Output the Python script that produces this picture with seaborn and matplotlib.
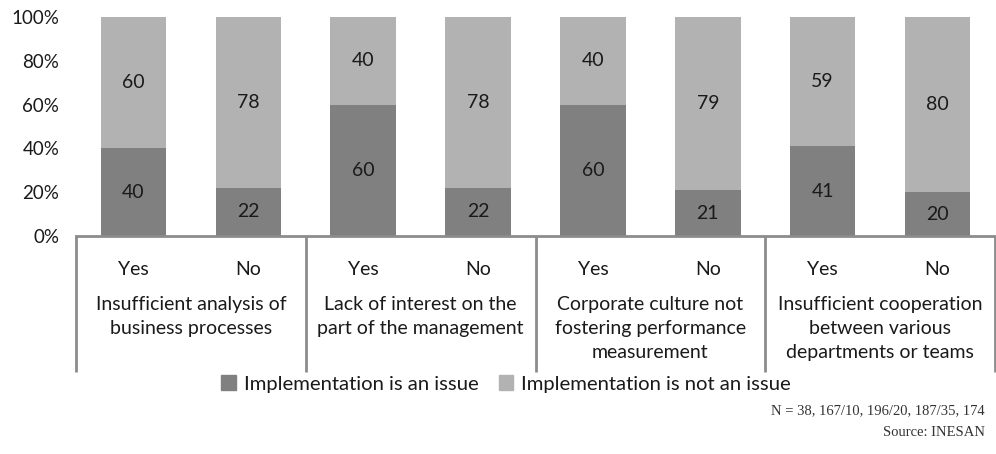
import matplotlib
matplotlib.use("Agg")
import matplotlib.pyplot as plt
import matplotlib.transforms as mtransforms
from matplotlib.patches import Patch
import seaborn as sns
import pandas as pd

categories = [
    "Insufficient analysis of\nbusiness processes",
    "Lack of interest on the\npart of the management",
    "Corporate culture not\nfostering performance\nmeasurement",
    "Insufficient cooperation\nbetween various\ndepartments or teams",
]
answers = ["Yes", "No"]
issue = [40, 22, 60, 22, 60, 21, 41, 20]
not_issue = [60, 78, 40, 78, 40, 79, 59, 80]
yticks = [0, 20, 40, 60, 80, 100]
series_names = ["Implementation is an issue", "Implementation is not an issue"]
footnote = ["N = 38, 167/10, 196/20, 187/35, 174", "Source: INESAN"]

DARK = "#808080"
LIGHT = "#b2b2b2"
LINE = "#8c8c8c"
TXT = "#1a1a1a"

sns.set_theme(style="white")
plt.rcParams["font.family"] = ["Lato", "DejaVu Sans"]

rows = []
for ci, cat in enumerate(categories):
    for ai, ans in enumerate(answers):
        k = ci * 2 + ai
        rows.append({"bar": f"{ci}-{ans}", "answer": ans,
                     "issue": issue[k], "not_issue": not_issue[k],
                     "total": issue[k] + not_issue[k]})
df = pd.DataFrame(rows)

W, H = 996, 454
fig = plt.figure(figsize=(W / 100, H / 100), dpi=100)
left, right, top, bottom = 76, 995, 17, 236
ax = fig.add_axes([left / W, 1 - bottom / H, (right - left) / W, (bottom - top) / H])

FS = 14
FT = 13.5
sns.barplot(data=df, x="bar", y="total", color=LIGHT, width=0.57, ax=ax,
            saturation=1, linewidth=0)
sns.barplot(data=df, x="bar", y="issue", color=DARK, width=0.57, ax=ax,
            saturation=1, linewidth=0)

for i, r in df.iterrows():
    ax.text(i, r["issue"] / 2, f"{r['issue']}", ha="center", va="center",
            fontsize=FS, color=TXT)
    ax.text(i, r["issue"] + r["not_issue"] / 2, f"{r['not_issue']}",
            ha="center", va="center", fontsize=FS, color=TXT)

ax.set_ylim(0, 100)
ax.set_xlim(-0.5, len(df) - 0.5)
ax.set_yticks(yticks)
ax.set_yticklabels([f"{v}%" for v in yticks], fontsize=FT, color=TXT)
ax.tick_params(axis="y", length=0, pad=12)
ax.set_xticks(range(len(df)))
ax.set_xticklabels(df["answer"], fontsize=FS, color=TXT)
ax.tick_params(axis="x", length=0, pad=18)
ax.set_xlabel("")
ax.set_ylabel("")
for s in ["top", "right", "left"]:
    ax.spines[s].set_visible(False)
ax.spines["bottom"].set_color(LINE)
ax.spines["bottom"].set_linewidth(2)

trans = mtransforms.blended_transform_factory(ax.transData, ax.transAxes)
axh = bottom - top
ylow = -(372 - bottom) / axh
for xd in [-0.5, 1.5, 3.5, 5.5, 7.5]:
    ax.plot([xd, xd], [0, ylow], transform=trans, color=LINE, lw=2,
            clip_on=False, solid_capstyle="butt")

ytxt = -(296 - bottom) / axh
for ci, cat in enumerate(categories):
    ax.text(ci * 2 + 0.5, ytxt, cat, transform=trans, ha="center", va="top",
            fontsize=FS, color=TXT, linespacing=1.5, multialignment="center")

handles = [Patch(color=DARK), Patch(color=LIGHT)]
fig.legend(handles, series_names, loc="center", bbox_to_anchor=(506 / W, 1 - 384 / H),
           ncol=2, frameon=False, fontsize=14.6, handlelength=0.7, handleheight=0.7,
           handletextpad=0.4, columnspacing=1.0, labelcolor=TXT)

fig.text(985 / W, 1 - 411 / H, footnote[0], ha="right", va="center",
         fontsize=10.5, family="Liberation Serif", color="#333333")
fig.text(985 / W, 1 - 432 / H, footnote[1], ha="right", va="center",
         fontsize=10.5, family="Liberation Serif", color="#333333")

fig.savefig("out.png", dpi=100, facecolor="white")
